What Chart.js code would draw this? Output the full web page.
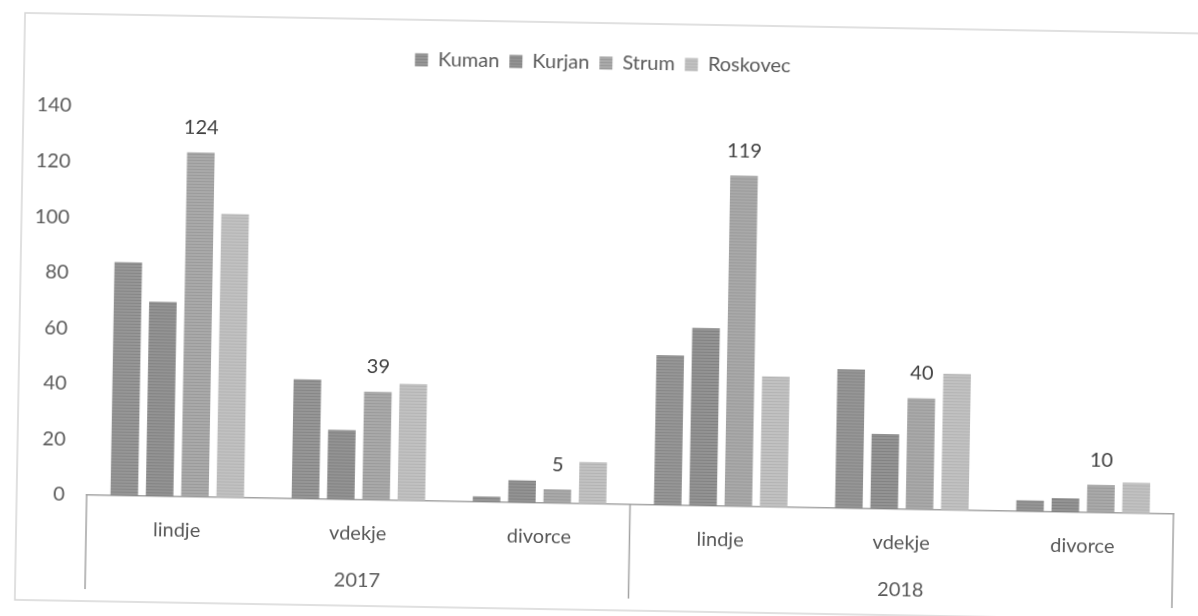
<!DOCTYPE html>
<html>
<head>
<meta charset="utf-8">
<script src="https://cdn.jsdelivr.net/npm/chart.js@4.4.1/dist/chart.umd.min.js"></script>
<style>
  html, body { margin: 0; padding: 0; background: #fff; overflow: hidden; }
  #moldura { width: 1198px; height: 616px; transform: rotate(1deg); }
</style>
</head>
<body>
<div id="moldura"><canvas id="graficoTreguesit" width="1198" height="616"></canvas></div>
<script>
// te dhenat e lexuara nga grafiku
const kategorite = ['lindje', 'vdekje', 'divorce', 'lindje', 'vdekje', 'divorce'];
const vitet = ['2017', '2018'];
const kuman = [84, 43, 2, 54, 50, 4];
const kurjan = [70, 25, 8, 64, 27, 5];
const strum = [124, 39, 5, 119, 40, 10];
const roskovec = [102, 42, 15, 47, 49, 11];
const yMin = 0, yMax = 140, yHapi = 20;

const FONT = 'Lato';
const GRI_TEKST = '#595959';
const GRI_VIJA = '#a3a3a3';

function textura(baza, vija) {
    const c = document.createElement('canvas');
    c.width = 4; c.height = 3;
    const g = c.getContext('2d');
    g.fillStyle = baza;
    g.fillRect(0, 0, 4, 3);
    g.fillStyle = vija;
    g.fillRect(0, 2, 4, 1);
    return g.createPattern(c, 'repeat');
}

// kuadri i jashtem i grafikut
const kornizaPlugin = {
    id: 'korniza',
    beforeDraw(chart) {
        const ctx = chart.ctx;
        ctx.save();
        ctx.fillStyle = '#fff';
        ctx.fillRect(0, 0, chart.width, chart.height);
        ctx.strokeStyle = '#d6d6d6';
        ctx.lineWidth = 1.5;
        ctx.strokeRect(20, 23, 1210, 587);
        ctx.restore();
    }
};

// hapesire shtese nen legjende
const legjendaPlugin = {
    id: 'legjendaHapesire',
    beforeInit(chart) {
        const fit = chart.legend.fit;
        chart.legend.fit = function () {
            fit.bind(chart.legend)();
            this.height += 32;
        };
    }
};

// boshti me dy nivele: vijat ndarese dhe vitet
const boshtiPlugin = {
    id: 'boshtiDyNivele',
    afterDraw(chart) {
        const ctx = chart.ctx;
        const x = chart.scales.x;
        const area = chart.chartArea;
        const fund = 598;
        const hapi = (area.right - area.left) / kategorite.length;
        const grupi = kategorite.length / vitet.length;
        ctx.save();
        ctx.strokeStyle = GRI_VIJA;
        ctx.lineWidth = 1.5;
        for (let i = 0; i <= vitet.length; i++) {
            const px = area.left + i * grupi * hapi;
            ctx.beginPath();
            ctx.moveTo(px, area.bottom);
            ctx.lineTo(px, fund);
            ctx.stroke();
        }
        ctx.fillStyle = GRI_TEKST;
        ctx.font = '20px ' + FONT;
        ctx.textAlign = 'center';
        ctx.textBaseline = 'middle';
        vitet.forEach((v, i) => {
            const a = x.getPixelForValue(i * grupi);
            const b = x.getPixelForValue(i * grupi + grupi - 1);
            ctx.fillText(v, (a + b) / 2, 585);
        });
        ctx.restore();
    }
};

// etiketat e vlerave vetem per Strum
const etiketaPlugin = {
    id: 'etiketaStrum',
    afterDatasetsDraw(chart) {
        const ctx = chart.ctx;
        const meta = chart.getDatasetMeta(2);
        ctx.save();
        ctx.fillStyle = '#404040';
        ctx.font = '20px ' + FONT;
        ctx.textAlign = 'center';
        ctx.textBaseline = 'middle';
        meta.data.forEach((bar, i) => {
            ctx.fillText(String(strum[i]), bar.x, bar.y - 25);
        });
        ctx.restore();
    }
};

class GraficoTreguesit {
    constructor() {
        this.ctx = document.getElementById('graficoTreguesit').getContext('2d');
    }

    renderizar() {
        const seri = [
            { label: 'Kuman', data: kuman, backgroundColor: textura('#969696', '#878787') },
            { label: 'Kurjan', data: kurjan, backgroundColor: textura('#939393', '#838383') },
            { label: 'Strum', data: strum, backgroundColor: textura('#a9a9a9', '#9b9b9b') },
            { label: 'Roskovec', data: roskovec, backgroundColor: textura('#c1c1c1', '#b4b4b4') }
        ];

        new Chart(this.ctx, {
            type: 'bar',
            data: {
                labels: kategorite,
                datasets: seri.map(s => Object.assign(s, {
                    categoryPercentage: 0.78,
                    barPercentage: 0.78
                }))
            },
            options: {
                responsive: false,
                animation: false,
                layout: { padding: { top: 43, left: 20, right: 21, bottom: 16 } },
                plugins: {
                    tooltip: { enabled: false },
                    legend: {
                        position: 'top',
                        labels: {
                            boxWidth: 13,
                            boxHeight: 13,
                            padding: 10,
                            color: GRI_TEKST,
                            font: { family: FONT, size: 20 }
                        }
                    }
                },
                scales: {
                    x: {
                        grid: { display: false, drawTicks: false },
                        border: { display: true, color: GRI_VIJA, width: 1.5 },
                        ticks: {
                            color: GRI_TEKST,
                            padding: 22,
                            maxRotation: 0,
                            font: { family: FONT, size: 20 }
                        },
                        afterFit(scale) { scale.height = 96; }
                    },
                    y: {
                        min: yMin,
                        max: yMax,
                        grid: { display: false, drawTicks: false },
                        border: { display: false },
                        ticks: {
                            stepSize: yHapi,
                            color: GRI_TEKST,
                            padding: 22,
                            font: { family: FONT, size: 20 }
                        },
                        afterFit(scale) { scale.width = 70; }
                    }
                }
            },
            plugins: [kornizaPlugin, legjendaPlugin, boshtiPlugin, etiketaPlugin]
        });
    }
}

const grafico = new GraficoTreguesit();
grafico.renderizar();
</script>
</body>
</html>
